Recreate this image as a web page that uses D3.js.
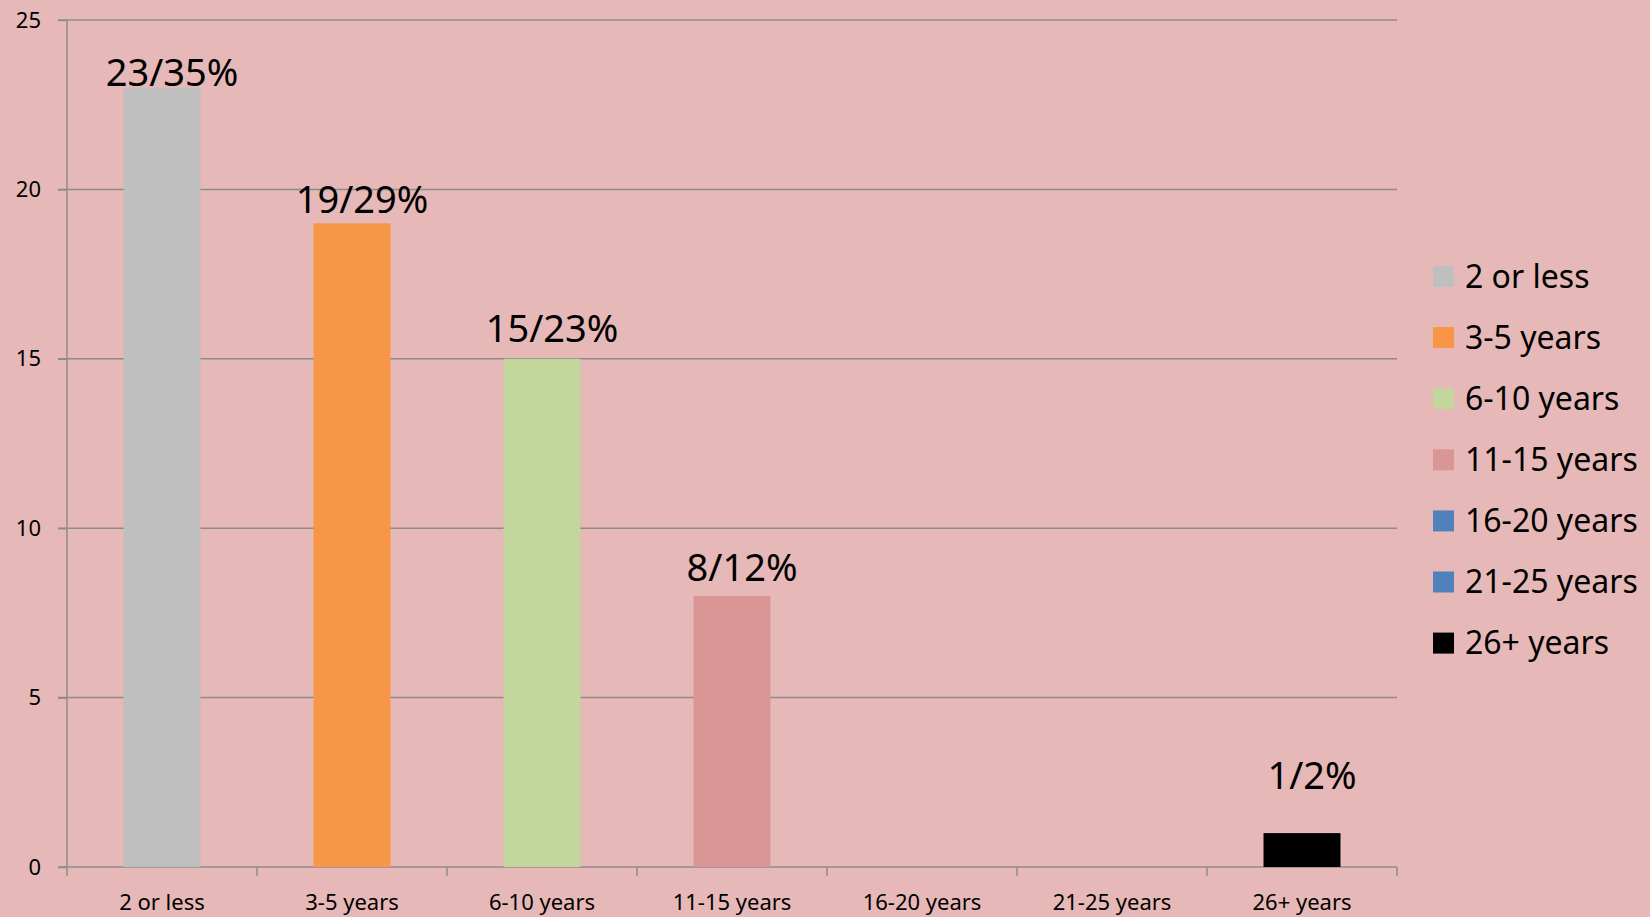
<!DOCTYPE html>
<html>
<head>
<meta charset="utf-8">
<script src="https://d3js.org/d3.v7.min.js"></script>
<style>
  html, body { margin: 0; padding: 0; background: #E6B8B7; }
  svg { display: block; }
</style>
</head>
<body>
<div id="mainDiv"></div>
<script>
'use strict';

var categories = ["2 or less", "3-5 years", "6-10 years", "11-15 years", "16-20 years", "21-25 years", "26+ years"];
var counts = [23, 19, 15, 8, 0, 0, 1];
var percents = ["35%", "29%", "23%", "12%", "0%", "0%", "2%"];
var colors = ["#BFBFBF", "#F79646", "#C3D69B", "#D99694", "#4F81BD", "#4F81BD", "#000000"];
var yTicks = [0, 5, 10, 15, 20, 25];

var myApp = {};

myApp.run = function ()
{
    var W = 1650, H = 917;
    var left = 67, right = 1397, top = 20, bottom = 867;
    var font = "'Noto Sans', 'Open Sans', sans-serif";

    var svg = d3.select("#mainDiv").append("svg")
        .attr("width", W)
        .attr("height", H);

    svg.append("rect")
        .attr("width", W).attr("height", H)
        .attr("fill", "#E6B8B7");

    var x = d3.scaleBand().domain(categories).range([left, right]).padding(0);
    var y = d3.scaleLinear().domain([0, 25]).range([bottom, top]);

    // gridlines
    svg.append("g").selectAll("line")
        .data(yTicks.filter(function(d){ return d > 0; }))
        .enter()
        .append("line")
            .attr("x1", left - 9)
            .attr("x2", right)
            .attr("y1", function(d){ return y(d); })
            .attr("y2", function(d){ return y(d); })
            .attr("stroke", "#8C8C8C")
            .attr("stroke-width", 1.5);

    // y axis
    var yAxis = d3.axisLeft(y).tickValues(yTicks).tickSize(9).tickPadding(17);
    var gy = svg.append("g").attr("transform", "translate(" + left + ",0)").call(yAxis);
    gy.selectAll("path, line").attr("stroke", "#8C8C8C").attr("stroke-width", 1.5);
    gy.select(".domain").attr("d", "M0," + top + "V" + bottom);
    gy.selectAll("text")
        .attr("font-family", font)
        .attr("font-size", "22px")
        .attr("fill", "#000");

    // x axis
    var xAxis = d3.axisBottom(x).tickSize(0).tickPadding(27);
    var gx = svg.append("g").attr("transform", "translate(0," + bottom + ")").call(xAxis);
    gx.select(".domain").attr("d", "M" + (left - 9) + ",0H" + right)
        .attr("stroke", "#8C8C8C").attr("stroke-width", 1.5);
    gx.selectAll("text")
        .attr("font-family", font)
        .attr("font-size", "22px")
        .attr("fill", "#000");

    // x tick marks at band boundaries
    var bounds = categories.map(function(c){ return x(c); }).concat([right]);
    gx.append("g").selectAll("line")
        .data(bounds)
        .enter()
        .append("line")
            .attr("x1", function(d){ return d; })
            .attr("x2", function(d){ return d; })
            .attr("y1", 0)
            .attr("y2", 9)
            .attr("stroke", "#8C8C8C")
            .attr("stroke-width", 1.5);

    // bars
    var barW = x.bandwidth() * 0.405;
    svg.append("g").selectAll("rect")
        .data(counts)
        .enter()
        .append("rect")
            .attr("x", function(d, i){ return x(categories[i]) + (x.bandwidth() - barW) / 2; })
            .attr("y", function(d){ return y(d); })
            .attr("width", barW)
            .attr("height", function(d){ return y(0) - y(d); })
            .attr("fill", function(d, i){ return colors[i]; });

    // bar labels (lift above bar top, as placed in the original)
    var lift = [2, 10, 17, 15, 0, 0, 44];
    var labelled = counts.map(function(d, i){ return i; }).filter(function(i){ return counts[i] > 0; });
    svg.append("g").selectAll("text")
        .data(labelled)
        .enter()
        .append("text")
            .text(function(k){ return counts[k] + "/" + percents[k]; })
            .attr("text-anchor", "middle")
            .attr("x", function(k){ return x(categories[k]) + x.bandwidth() / 2 + 10; })
            .attr("y", function(k){ return y(counts[k]) - lift[k]; })
            .attr("font-family", font)
            .attr("font-size", "38px")
            .attr("fill", "#000");

    // legend
    var legend = svg.append("g").attr("transform", "translate(1433,266)");
    var rows = legend.selectAll("g")
        .data(categories)
        .enter()
        .append("g")
            .attr("transform", function(d, i){ return "translate(0," + (i * 61.1) + ")"; });
    rows.append("rect")
        .attr("width", 21).attr("height", 21)
        .attr("fill", function(d, i){ return colors[i]; });
    rows.append("text")
        .text(function(d){ return d; })
        .attr("x", 32)
        .attr("y", 10.5)
        .attr("dy", "0.35em")
        .attr("font-family", font)
        .attr("font-size", "32px")
        .attr("fill", "#000");
}

window.onload = myApp.run;
</script>
</body>
</html>
